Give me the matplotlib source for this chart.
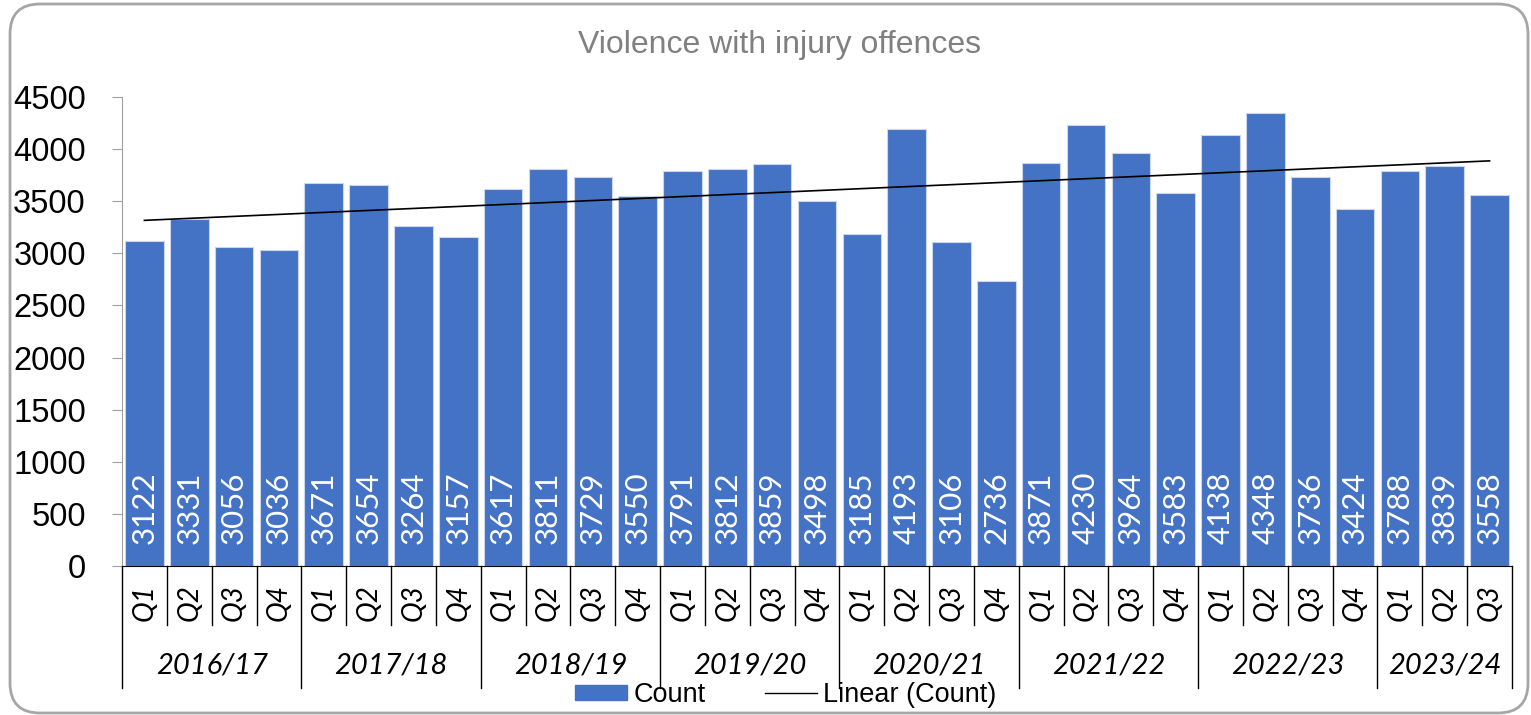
import matplotlib.pyplot as plt
import numpy as np
from matplotlib.patches import FancyBboxPatch, Patch
from matplotlib.lines import Line2D

years = ['2016/17', '2017/18', '2018/19', '2019/20', '2020/21', '2021/22', '2022/23', '2023/24']
quarters = ['Q1', 'Q2', 'Q3', 'Q4'] * 7 + ['Q1', 'Q2', 'Q3']
counts = [3122, 3331, 3056, 3036,
          3671, 3654, 3264, 3157,
          3617, 3811, 3729, 3550,
          3791, 3812, 3859, 3498,
          3185, 4193, 3106, 2736,
          3871, 4230, 3964, 3583,
          4138, 4348, 3736, 3424,
          3788, 3839, 3558]

blue = '#4472C4'
fig = plt.figure(figsize=(15.31, 7.15), dpi=100)
ax = fig.add_axes([122/1531, 1 - 566/715, 1390/1531, 469/715])

x = np.arange(len(counts))
ax.bar(x, counts, width=0.86, color=blue, edgecolor='#c9d6ee', linewidth=0.8, label='Count')

# linear trend like excel
k, b = np.polyfit(x, counts, 1)
ax.plot(x, k * x + b, color='black', linewidth=1.2, label='Linear (Count)')

# data labels inside bars
trans = ax.get_xaxis_transform()
for xi, v in zip(x, counts):
    ax.text(xi, 0.124, str(v), transform=trans, rotation=90, ha='center', va='center',
            color='white', fontsize=22.5, family='Lato')

ax.set_xlim(-0.5, len(counts) - 0.5)
ax.set_ylim(0, 4500)
ax.set_yticks(np.arange(0, 4501, 500))
ax.tick_params(axis='y', labelsize=23.5, length=7, color='#a0a0a0', pad=19)
for lab in ax.get_yticklabels():
    lab.set_family('Liberation Sans')
ax.set_xticks([])
for s in ['top', 'right']:
    ax.spines[s].set_visible(False)
ax.spines['left'].set_color('#a0a0a0')
ax.spines['bottom'].set_color('black')

# quarter labels and separators
for xi, q in zip(x, quarters):
    ax.text(xi, -0.079, q, transform=trans, rotation=90, ha='center', va='center',
            fontsize=20, style='italic', family='Lato')
for i in range(len(counts) + 1):
    long = (i % 4 == 0) or i == len(counts)
    ax.plot([i - 0.5, i - 0.5], [0, -0.26 if long else -0.126], transform=trans,
            color='black', linewidth=1, clip_on=False)

# year labels
for j, yr in enumerate(years):
    start = j * 4 - 0.5
    end = min(j * 4 + 3.5, len(counts) - 0.5)
    ax.text((start + end) / 2, -0.213, yr, transform=trans, ha='center', va='center',
            fontsize=21, style='italic', family='Lato')

fig.text(780/1531, 1 - 45/715, 'Violence with injury offences', ha='center', va='center',
         fontsize=23, color='#808080', family='Liberation Sans')

handles = [Patch(facecolor=blue, edgecolor=blue), Line2D([0], [0], color='black', linewidth=1)]
fig.legend(handles, ['Count', 'Linear (Count)'], loc='center', bbox_to_anchor=(786/1531, 1 - 695/715),
           ncol=2, frameon=False, prop={'family': 'Liberation Sans', 'size': 19.5},
           handlelength=1.9, handleheight=0.5, handletextpad=0.25, columnspacing=2.2)

border = FancyBboxPatch((0.10, 0.02), 15.18, 7.09, boxstyle='round,pad=0,rounding_size=0.3',
                        transform=fig.dpi_scale_trans, facecolor='none', edgecolor='#a6a6a6',
                        linewidth=2, clip_on=False)
fig.patches.append(border)

plt.savefig('out.png', dpi=100)
